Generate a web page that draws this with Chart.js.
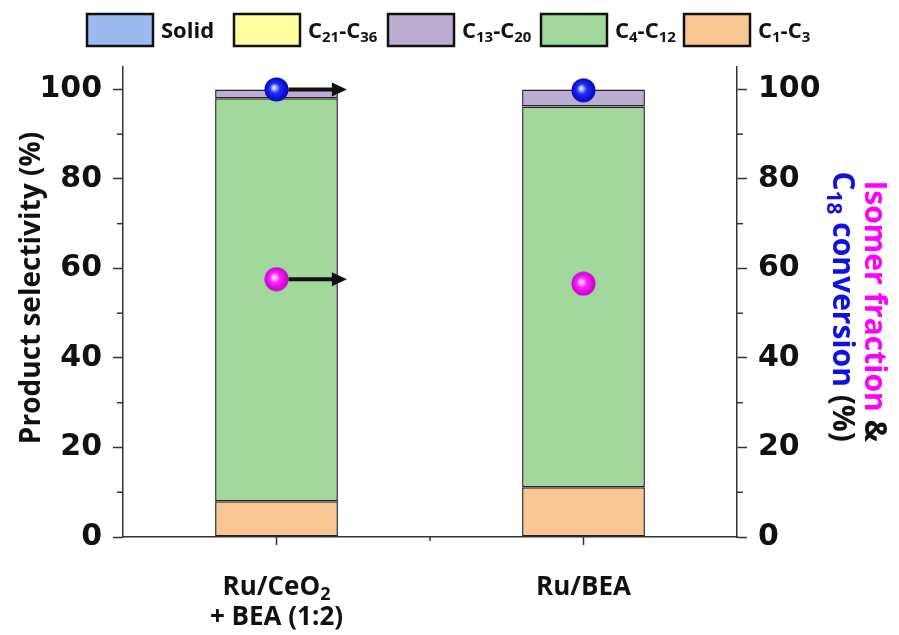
<!DOCTYPE html>
<html>
<head>
<meta charset="utf-8">
<script src="https://cdn.jsdelivr.net/npm/chart.js@4"></script>
<style>
  html, body { margin: 0; padding: 0; background: #ffffff; }
  #wrap { width: 899px; height: 635px; }
</style>
</head>
<body>
<div id="wrap"><canvas id="chart" width="899" height="635"></canvas></div>
<script>
// ---- data ----
// category labels; _{..} marks a subscript
const categories = [['Ru/CeO_{2}', '+ BEA (1:2)'], ['Ru/BEA']];
// product selectivity (%) per carbon range, bottom to top of each stack
const seriesNames = ['C_{1}-C_{3}', 'C_{4}-C_{12}', 'C_{13}-C_{20}', 'C_{21}-C_{36}', 'Solid'];
const selC1C3 = [8.0, 11.1];
const selC4C12 = [90.0, 85.1];
const selC13C20 = [2.0, 3.8];
const selC21C36 = [0, 0];
const selSolid = [0, 0];
// right-axis quantities (%)
const conversionC18 = [100, 99.8];
const isomerFraction = [57.6, 56.6];
// axis ticks
const majorTicks = [0, 20, 40, 60, 80, 100];
const minorTicks = [10, 30, 50, 70, 90];
// right-axis title lines
const rightTitleLine1 = [{ t: 'Isomer fraction ', c: '#ff00ff' }, { t: '&', c: '#111111' }];
const rightTitleLine2 = [{ t: 'C', c: '#1010e0' }, { t: '18', c: '#1010e0', sub: true }, { t: ' conversion ', c: '#1010e0' }, { t: '(%)', c: '#111111' }];
const leftTitle = 'Product selectivity (%)';

// ---- styles ----
const fillColors = ['#f9c794', '#a2d89c', '#bcaed3', '#ffff9f', '#9dbaf0'];
const TEXT_FONT = "'Open Sans', sans-serif";
const TICK_FONT = "'DejaVu Sans', sans-serif";
const AXIS_COLOR = '#333333';
const LEGEND_X = [87, 234, 388, 541, 684];

// rich text helpers (subscripts + per-run colour)
function parseRuns(s) {
  const runs = [];
  const re = /_\{([^}]*)\}/g;
  let last = 0, m;
  while ((m = re.exec(s))) {
    if (m.index > last) runs.push({ t: s.slice(last, m.index) });
    runs.push({ t: m[1], sub: true });
    last = re.lastIndex;
  }
  if (last < s.length) runs.push({ t: s.slice(last) });
  return runs;
}
function runFont(run, size) {
  return 'bold ' + (run.sub ? Math.round(size * 0.7) : size) + 'px ' + TEXT_FONT;
}
function runsWidth(ctx, runs, size) {
  let w = 0;
  runs.forEach(r => { ctx.font = runFont(r, size); w += ctx.measureText(r.t).width; });
  return w;
}
function drawRuns(ctx, runs, x, y, size, align, color) {
  const w = runsWidth(ctx, runs, size);
  let cx = align === 'center' ? x - w / 2 : (align === 'right' ? x - w : x);
  ctx.textAlign = 'left';
  ctx.textBaseline = 'alphabetic';
  runs.forEach(r => {
    ctx.font = runFont(r, size);
    ctx.fillStyle = r.c || color || '#111111';
    ctx.fillText(r.t, cx, r.sub ? y + size * 0.2 : y);
    cx += ctx.measureText(r.t).width;
  });
}

// shaded sphere markers
function makeBall(light, mid, dark) {
  const r = 12.5;
  const cv = document.createElement('canvas');
  cv.width = cv.height = 2 * r;
  const g = cv.getContext('2d');
  const grad = g.createRadialGradient(r * 0.8, r * 0.85, 1, r, r, r);
  grad.addColorStop(0, light);
  grad.addColorStop(0.35, mid);
  grad.addColorStop(1, dark);
  g.fillStyle = grad;
  g.beginPath();
  g.arc(r, r, r - 0.5, 0, Math.PI * 2);
  g.fill();
  return cv;
}
const blueBall = makeBall('#dfe4ff', '#2030ff', '#0000b8');
const pinkBall = makeBall('#ffe0ff', '#ff22ff', '#c000c8');

// ---- custom drawing: legend, titles, labels, minor ticks, arrows ----
const decorations = {
  id: 'decorations',
  afterDraw(chart) {
    const ctx = chart.ctx;
    const { x, y } = chart.scales;
    const area = chart.chartArea;
    ctx.save();

    // minor ticks on both value axes
    ctx.strokeStyle = AXIS_COLOR;
    ctx.lineWidth = 1.5;
    minorTicks.forEach(v => {
      const py = y.getPixelForValue(v);
      ctx.beginPath(); ctx.moveTo(area.left - 6, py); ctx.lineTo(area.left, py); ctx.stroke();
      ctx.beginPath(); ctx.moveTo(area.right, py); ctx.lineTo(area.right + 6, py); ctx.stroke();
    });
    // category ticks on x axis
    categories.forEach((c, i) => {
      const px = x.getPixelForValue(i);
      ctx.beginPath(); ctx.moveTo(px, area.bottom); ctx.lineTo(px, area.bottom + 8); ctx.stroke();
    });
    const mid = (x.getPixelForValue(0) + x.getPixelForValue(1)) / 2;
    ctx.beginPath(); ctx.moveTo(mid, area.bottom); ctx.lineTo(mid, area.bottom + 4); ctx.stroke();

    // category labels
    categories.forEach((lines, i) => {
      const px = x.getPixelForValue(i);
      lines.forEach((ln, j) => drawRuns(ctx, parseRuns(ln), px, 595 + j * 30, 26, 'center', '#111111'));
    });

    // legend (top row, reverse stack order)
    const order = [4, 3, 2, 1, 0];
    order.forEach((di, k) => {
      const bx = LEGEND_X[k];
      ctx.fillStyle = fillColors[di];
      ctx.fillRect(bx, 14, 66, 32);
      ctx.lineWidth = 2.5;
      ctx.strokeStyle = '#111111';
      ctx.strokeRect(bx, 14, 66, 32);
      drawRuns(ctx, parseRuns(seriesNames[di]), bx + 74, 38, 22, 'left', '#111111');
    });

    // left title
    ctx.save();
    ctx.translate(40, 288);
    ctx.rotate(-Math.PI / 2);
    drawRuns(ctx, [{ t: leftTitle }], 0, 0, 28, 'center', '#111111');
    ctx.restore();

    // right title (two lines, reading downward)
    ctx.save();
    ctx.translate(865, 442);
    ctx.rotate(Math.PI / 2);
    drawRuns(ctx, rightTitleLine1, 0, 0, 30, 'right');
    ctx.restore();
    ctx.save();
    ctx.translate(833, 442);
    ctx.rotate(Math.PI / 2);
    drawRuns(ctx, rightTitleLine2, 0, 0, 30, 'right');
    ctx.restore();

    // arrows from the first category's markers toward the right axis
    const bar = chart.getDatasetMeta(0).data[0];
    const tipX = bar.x + bar.width / 2 + 9;
    [5, 6].forEach(di => {
      const pt = chart.getDatasetMeta(di).data[0];
      const sx = pt.x + 12, sy = pt.y;
      ctx.strokeStyle = '#111111';
      ctx.fillStyle = '#111111';
      ctx.lineWidth = 4;
      ctx.beginPath(); ctx.moveTo(sx, sy); ctx.lineTo(tipX - 12, sy); ctx.stroke();
      ctx.beginPath();
      ctx.moveTo(tipX, sy);
      ctx.lineTo(tipX - 15, sy - 7);
      ctx.lineTo(tipX - 15, sy + 7);
      ctx.closePath();
      ctx.fill();
    });
    ctx.restore();
  }
};

const barSeries = [selC1C3, selC4C12, selC13C20, selC21C36, selSolid];
const datasets = barSeries.map((vals, i) => ({
  type: 'bar',
  label: seriesNames[i],
  data: vals,
  backgroundColor: fillColors[i],
  borderColor: '#222222',
  borderWidth: ctx => (ctx.raw ? 1.5 : 0),
  borderSkipped: false,
  yAxisID: 'y',
  barPercentage: 0.4,
  categoryPercentage: 1.0,
  order: 2
}));
datasets.push({
  type: 'line', label: 'C18 conversion', data: conversionC18, yAxisID: 'y2',
  showLine: false, pointStyle: blueBall, pointRadius: 12.5, order: 1
});
datasets.push({
  type: 'line', label: 'Isomer fraction', data: isomerFraction, yAxisID: 'y2',
  showLine: false, pointStyle: pinkBall, pointRadius: 12.5, order: 1
});

function valueAxis(position, width) {
  return {
    position: position,
    stacked: position === 'left',
    min: 0,
    max: 105,
    afterBuildTicks(s) { s.ticks = majorTicks.map(v => ({ value: v })); },
    afterFit(s) { s.width = width; },
    ticks: {
      color: '#111111',
      padding: 11,
      font: { family: TICK_FONT, weight: 'bold', size: 30 },
      callback: v => String(v)
    },
    grid: { drawOnChartArea: false, tickLength: 10, tickWidth: 1.5, tickColor: AXIS_COLOR, color: AXIS_COLOR },
    border: { display: true, color: AXIS_COLOR, width: 1.5 }
  };
}

new Chart(document.getElementById('chart'), {
  type: 'bar',
  data: { labels: categories.map(c => c.join(' ')), datasets },
  options: {
    responsive: false,
    animation: false,
    devicePixelRatio: 1,
    layout: { padding: { top: 67, left: 0, right: 0, bottom: 0 } },
    plugins: { legend: { display: false }, tooltip: { enabled: false } },
    scales: {
      x: {
        stacked: true,
        offset: true,
        grid: { display: false },
        border: { display: true, color: AXIS_COLOR, width: 1.5 },
        ticks: { display: false },
        afterFit(s) { s.height = 98; }
      },
      y: valueAxis('left', 123),
      y2: valueAxis('right', 162)
    }
  },
  plugins: [decorations]
});
</script>
</body>
</html>
